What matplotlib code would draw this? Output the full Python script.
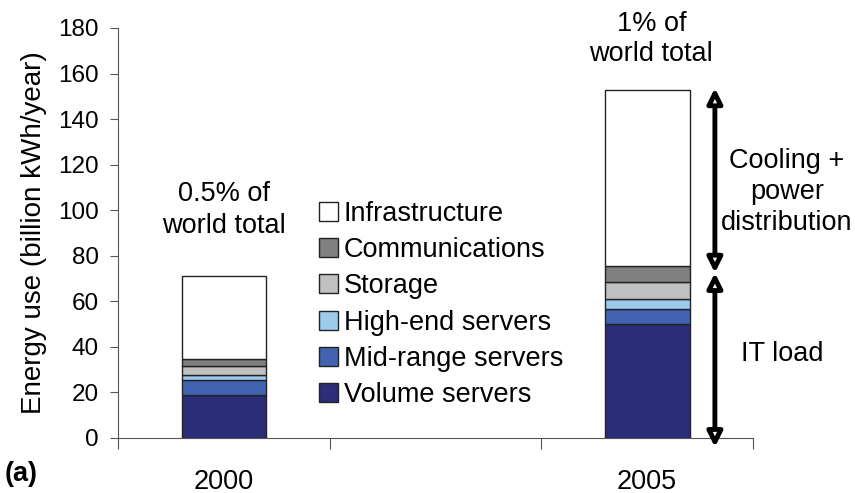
import numpy as np
import matplotlib.pyplot as plt

plt.rcParams['font.family'] = ['Liberation Sans', 'DejaVu Sans']

# data (billion kWh/year)
anos = ['2000', '2005']
pos = [0, 2]
camadas = ['Volume servers', 'Mid-range servers', 'High-end servers',
           'Storage', 'Communications', 'Infrastructure']
valores = {
    'Volume servers':    [19.0, 50.0],
    'Mid-range servers': [6.5, 6.6],
    'High-end servers':  [2.2, 4.4],
    'Storage':           [3.9, 7.3],
    'Communications':    [3.1, 7.3],
    'Infrastructure':    [36.3, 77.0],
}
cores = ['#2b2d78', '#4263b2', '#9ccbec', '#c0c0c0', '#808080', '#ffffff']
it_load = 72.5
topo_2005 = 152.6

fs = 19.5

fig = plt.figure(figsize=(8.55, 4.93), dpi=100)
ax = fig.add_axes([118/855, 1 - 438/493, (753-118)/855, (438-28)/493])

base = np.zeros(2)
handles = []
for nome, cor in zip(camadas, cores):
    v = np.array(valores[nome])
    b = ax.bar(pos, v, 0.4, bottom=base, color=cor, edgecolor='#222222',
               linewidth=1, label=nome)
    handles.append(b)
    base += v

ax.set_xlim(-0.5, 2.5)
ax.set_ylim(0, 180)
ax.set_yticks(range(0, 181, 20))
ax.set_xticks([-0.5, 0.5, 1.5, 2.5])
ax.set_xticklabels([])
ax.set_xticks(pos, minor=True)
ax.set_xticklabels(anos, minor=True)
ax.tick_params(axis='x', which='major', length=8, color='#555555')
ax.tick_params(axis='x', which='minor', length=0, pad=22, labelsize=fs)
ax.tick_params(axis='y', length=6, color='#555555', labelsize=17.5, pad=8)
for s in ['top', 'right']:
    ax.spines[s].set_visible(False)
for s in ['left', 'bottom']:
    ax.spines[s].set_color('#555555')
ax.set_ylabel('Energy use (billion kWh/year)', fontsize=20, labelpad=8)

leg = ax.legend(handles[::-1], camadas[::-1], loc='upper left',
                bbox_to_anchor=(0.30, 0.605), frameon=False, fontsize=fs,
                handlelength=0.7, handleheight=0.7, handletextpad=0.2,
                labelspacing=0.38, borderaxespad=0)

ax.text(0, 100, '0.5% of\nworld total', ha='center', va='center', fontsize=fs,
        linespacing=1.3)
ax.text(2.02, 175, '1% of\nworld total', ha='center', va='center', fontsize=fs,
        linespacing=1.2)

xa = 2.32
seta = dict(arrowstyle='<|-|>', color='black', lw=3.5, mutation_scale=22,
            shrinkA=0, shrinkB=0)
ax.annotate('', xy=(xa, -4), xytext=(xa, it_load),
            arrowprops=dict(seta, fc='white'), annotation_clip=False)
ax.annotate('', xy=(xa, it_load), xytext=(xa, topo_2005 + 1),
            arrowprops=dict(seta, fc='white'), annotation_clip=False)

ax.text(2.66, 108, 'Cooling +\npower\ndistribution', ha='center', va='center',
        fontsize=fs, linespacing=1.25)
ax.text(2.64, 37, 'IT load', ha='center', va='center', fontsize=fs)
fig.text(0.005, 0.012, '(a)', fontsize=fs, fontweight='bold', ha='left', va='bottom')

fig.savefig('out.png', dpi=100)
